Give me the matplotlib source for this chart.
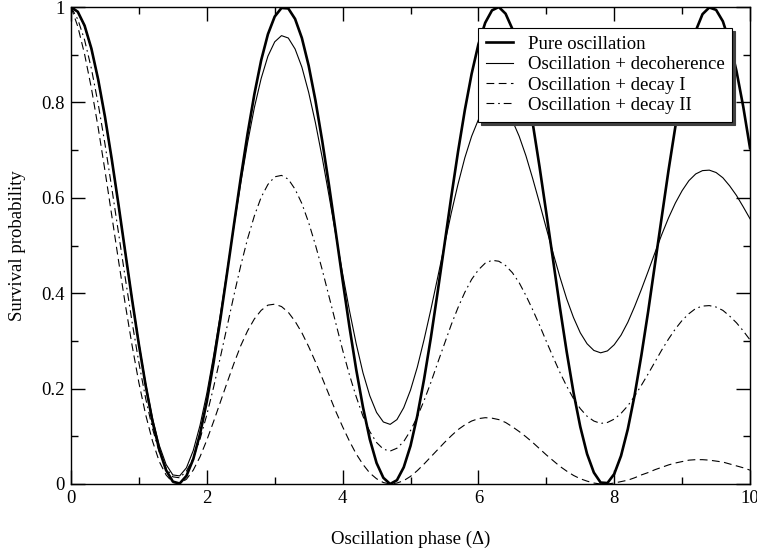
#!/usr/bin/env python3
"""Survival probability vs oscillation phase for four scenarios."""

import matplotlib
import numpy as np

matplotlib.use('Agg')
import matplotlib.pyplot as plt

phase = np.linspace(0, 10, 101)

pure = [
    1.000, 0.990, 0.961, 0.913, 0.848, 0.770, 0.681, 0.585, 0.485, 0.386,
    0.292, 0.206, 0.131, 0.072, 0.029, 0.005, 0.001, 0.017, 0.052, 0.105,
    0.173, 0.255, 0.346, 0.444, 0.544, 0.642, 0.734, 0.817, 0.888, 0.943,
    0.980, 0.998, 0.997, 0.975, 0.935, 0.877, 0.804, 0.719, 0.626, 0.527,
    0.427, 0.330, 0.240, 0.161, 0.094, 0.044, 0.013, 0.000, 0.008, 0.035,
    0.080, 0.143, 0.220, 0.307, 0.403, 0.502, 0.602, 0.697, 0.784, 0.860,
    0.922, 0.967, 0.993, 1.000, 0.986, 0.954, 0.903, 0.836, 0.756, 0.665,
    0.568, 0.469, 0.370, 0.277, 0.192, 0.120, 0.063, 0.024, 0.003, 0.002,
    0.021, 0.059, 0.115, 0.186, 0.270, 0.362, 0.461, 0.560, 0.658, 0.749,
    0.830, 0.898, 0.950, 0.985, 0.999, 0.994, 0.970, 0.926, 0.866, 0.791,
    0.704,
]

decoherence = [
    1.000, 0.990, 0.960, 0.912, 0.848, 0.769, 0.680, 0.584, 0.486, 0.388,
    0.295, 0.210, 0.138, 0.081, 0.041, 0.019, 0.017, 0.034, 0.070, 0.123,
    0.190, 0.269, 0.356, 0.448, 0.541, 0.631, 0.715, 0.789, 0.850, 0.897,
    0.927, 0.940, 0.935, 0.912, 0.874, 0.821, 0.757, 0.684, 0.604, 0.522,
    0.441, 0.364, 0.294, 0.233, 0.185, 0.150, 0.130, 0.125, 0.135, 0.160,
    0.197, 0.245, 0.303, 0.366, 0.433, 0.501, 0.568, 0.629, 0.684, 0.729,
    0.764, 0.788, 0.799, 0.798, 0.786, 0.762, 0.729, 0.688, 0.640, 0.589,
    0.536, 0.484, 0.434, 0.388, 0.349, 0.317, 0.294, 0.280, 0.275, 0.279,
    0.292, 0.312, 0.339, 0.372, 0.408, 0.446, 0.485, 0.523, 0.558, 0.589,
    0.615, 0.636, 0.650, 0.657, 0.658, 0.653, 0.642, 0.625, 0.605, 0.581,
    0.556,
]

decay_1 = [
    1.000, 0.959, 0.901, 0.830, 0.747, 0.657, 0.563, 0.468, 0.376, 0.290,
    0.212, 0.145, 0.090, 0.047, 0.019, 0.003, 0.001, 0.010, 0.029, 0.057,
    0.092, 0.131, 0.172, 0.213, 0.253, 0.290, 0.321, 0.346, 0.364, 0.375,
    0.377, 0.372, 0.360, 0.341, 0.317, 0.288, 0.256, 0.222, 0.187, 0.152,
    0.120, 0.090, 0.063, 0.041, 0.023, 0.011, 0.003, 0.000, 0.002, 0.007,
    0.016, 0.028, 0.042, 0.057, 0.072, 0.087, 0.101, 0.114, 0.124, 0.132,
    0.137, 0.139, 0.138, 0.135, 0.129, 0.120, 0.110, 0.099, 0.087, 0.074,
    0.061, 0.049, 0.037, 0.027, 0.018, 0.011, 0.006, 0.002, 0.000, 0.000,
    0.002, 0.005, 0.008, 0.013, 0.019, 0.024, 0.030, 0.035, 0.040, 0.044,
    0.047, 0.050, 0.051, 0.051, 0.050, 0.048, 0.046, 0.042, 0.038, 0.034,
    0.029,
]

decay_2 = [
    1.000, 0.974, 0.931, 0.871, 0.797, 0.713, 0.621, 0.526, 0.431, 0.339,
    0.254, 0.179, 0.116, 0.067, 0.033, 0.015, 0.013, 0.027, 0.054, 0.094,
    0.145, 0.203, 0.266, 0.331, 0.396, 0.458, 0.514, 0.562, 0.601, 0.628,
    0.644, 0.647, 0.639, 0.618, 0.588, 0.548, 0.501, 0.449, 0.393, 0.337,
    0.281, 0.229, 0.183, 0.142, 0.110, 0.087, 0.073, 0.069, 0.075, 0.089,
    0.112, 0.141, 0.175, 0.213, 0.254, 0.294, 0.334, 0.370, 0.402, 0.429,
    0.449, 0.463, 0.469, 0.467, 0.458, 0.443, 0.422, 0.395, 0.365, 0.333,
    0.299, 0.266, 0.234, 0.205, 0.179, 0.158, 0.142, 0.132, 0.127, 0.129,
    0.136, 0.148, 0.164, 0.184, 0.207, 0.231, 0.256, 0.281, 0.304, 0.325,
    0.343, 0.357, 0.368, 0.373, 0.374, 0.371, 0.364, 0.352, 0.338, 0.321,
    0.302,
]

labels = [
    "Pure oscillation",
    "Oscillation + decoherence",
    "Oscillation + decay I",
    "Oscillation + decay II",
]

x_ticks = [0, 2, 4, 6, 8, 10]
x_ticklabels = ["0", "2", "4", "6", "8", "10"]
y_ticks = [0, 0.2, 0.4, 0.6, 0.8, 1.0]
y_ticklabels = ["0", "0.2", "0.4", "0.6", "0.8", "1"]


def main():
    plt.rcParams['font.family'] = ['Liberation Serif', 'DejaVu Serif']
    plt.rcParams['font.size'] = 13.5

    fig = plt.figure(figsize=(7.57, 5.52), dpi=100)
    ax = fig.add_axes([0.0938, 0.1232, 0.8970, 0.8641])

    ax.plot(phase, pure, color="black", lw=1.9, label=labels[0])
    ax.plot(phase, decoherence, color="black", lw=0.8, label=labels[1])
    ax.plot(phase, decay_1, color="black", lw=0.8,
            linestyle=(0, (7, 4)), label=labels[2])
    ax.plot(phase, decay_2, color="black", lw=0.8,
            linestyle=(0, (7, 3.5, 1.5, 3.5)), label=labels[3])

    ax.set_xlim(0, 10)
    ax.set_ylim(0, 1)
    ax.set_xticks(x_ticks)
    ax.set_xticklabels(x_ticklabels)
    ax.set_yticks(y_ticks)
    ax.set_yticklabels(y_ticklabels)
    ax.set_xticks([1, 3, 5, 7, 9], minor=True)
    ax.set_yticks([0.1, 0.3, 0.5, 0.7, 0.9], minor=True)
    ax.tick_params(which="both", direction="in", top=True, right=True,
                   width=1.0, pad=4.5, labelsize=13.5)
    ax.tick_params(which="major", length=10)
    ax.tick_params(which="minor", length=5)
    for spine in ax.spines.values():
        spine.set_linewidth(1.0)

    ax.set_xlabel("Oscillation phase (\u0394)", fontsize=13.5)
    ax.set_ylabel("Survival probability", fontsize=13.5)
    ax.xaxis.set_label_coords(0.5, -0.097)
    ax.yaxis.set_label_coords(-0.066, 0.5)

    ax.legend(loc="upper left", bbox_to_anchor=(0.599, 0.956),
              borderaxespad=0, borderpad=0.42, labelspacing=0.17,
              handlelength=1.45, handletextpad=0.8, fancybox=False,
              framealpha=1, edgecolor="black", fontsize=13.5,
              shadow={"color": "0.25", "alpha": 1})
    ax.get_legend().get_frame().set_linewidth(0.8)

    fig.savefig("out.png", dpi=100)


if __name__ == "__main__":
    main()
